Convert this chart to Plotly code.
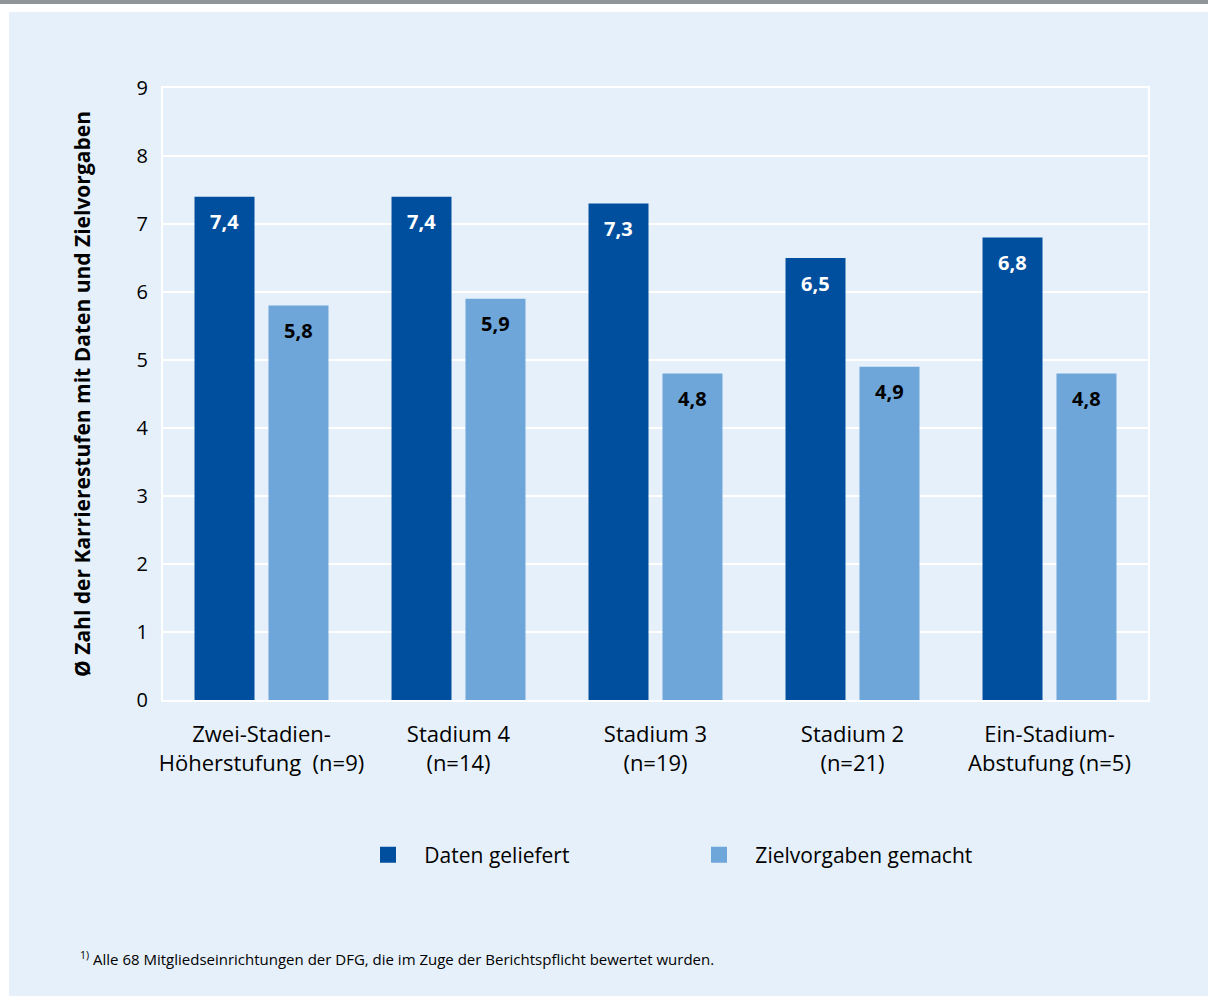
import plotly.graph_objects as go

categories = ["Zwei-Stadien-<br>Höherstufung\u00a0\u00a0(n=9)", "Stadium 4<br>(n=14)", "Stadium 3<br>(n=19)",
              "Stadium 2<br>(n=21)", "Ein-Stadium-<br>Abstufung (n=5)"]
daten = [7.4, 7.4, 7.3, 6.5, 6.8]
ziel = [5.8, 5.9, 4.8, 4.9, 4.8]
series_names = ["Daten geliefert", "Zielvorgaben gemacht"]
yticks = [0, 1, 2, 3, 4, 5, 6, 7, 8, 9]

DARK = "#004f9f"
LIGHT = "#6fa6d9"
BG = "#e6f0fa"
FONT = "Open Sans"

W, H = 1208, 996
L, R, T, B = 163, 60, 88, 296
PW, PH = W - L - R, H - T - B


def px(x):
    return (x - L) / PW


def py(y):
    return (H - B - y) / PH


def fmt(v):
    return f"{v:.1f}".replace(".", ",")


fig = go.Figure()
fig.add_trace(go.Bar(x=categories, y=daten, name=series_names[0], marker=dict(color=DARK, line=dict(width=0)),
                     showlegend=False))
fig.add_trace(go.Bar(x=categories, y=ziel, name=series_names[1], marker=dict(color=LIGHT, line=dict(width=0)),
                     showlegend=False))
# legend proxies
for nm, col in zip(series_names, [DARK, LIGHT]):
    fig.add_trace(go.Scatter(x=[None], y=[None], mode="markers", name="\u00a0\u00a0\u00a0" + nm,
                             marker=dict(symbol="square", size=20, color=col)))

annotations = []
for c, v in zip(categories, daten):
    annotations.append(dict(x=c, y=v, xref="x", yref="y", text=f"<b>{fmt(v)}</b>", showarrow=False,
                            xshift=-37, yshift=-25, font=dict(family=FONT, size=20, color="white")))
for c, v in zip(categories, ziel):
    annotations.append(dict(x=c, y=v, xref="x", yref="y", text=f"<b>{fmt(v)}</b>", showarrow=False,
                            xshift=37, yshift=-25, font=dict(family=FONT, size=20, color="black")))
annotations.append(dict(x=px(78), y=py(958), xref="paper", yref="paper", xanchor="left", yanchor="middle",
                        text="<sup>1)</sup> Alle 68 Mitgliedseinrichtungen der DFG, die im Zuge der Berichtspflicht bewertet wurden.",
                        showarrow=False, font=dict(family=FONT, size=15, color="black")))

shapes = [
    dict(type="rect", xref="paper", yref="paper", x0=px(9), x1=px(W + 5), y0=py(H + 5), y1=py(12),
         fillcolor=BG, line=dict(width=0), layer="below"),
    dict(type="rect", xref="paper", yref="paper", x0=px(-5), x1=px(W + 5), y0=py(4), y1=py(-5),
         fillcolor="#8f9598", line=dict(width=0), layer="below"),
]

fig.update_layout(
    width=W, height=H,
    margin=dict(l=L, r=R, t=T, b=B, autoexpand=False),
    paper_bgcolor="white", plot_bgcolor=BG,
    barmode="group", bargap=0.249, bargroupgap=0.189,
    font=dict(family=FONT, size=20, color="black"),
    shapes=shapes, annotations=annotations,
    showlegend=True,
    legend=dict(orientation="h", x=px(368), y=py(855), xanchor="left", yanchor="middle",
                bgcolor="rgba(0,0,0,0)", font=dict(family=FONT, size=21, color="black"),
                entrywidth=286, entrywidthmode="pixels", itemsizing="trace"),
)
fig.update_xaxes(showgrid=False, showline=True, linecolor="white", linewidth=2, mirror=True,
                 ticks="", ticklabelstandoff=14, tickfont=dict(family=FONT, size=22), fixedrange=True)
fig.update_yaxes(range=[0, 9], tickvals=yticks, showgrid=True, gridcolor="white", gridwidth=1.5,
                 showline=True, linecolor="white", linewidth=2, mirror=True, zeroline=False,
                 ticks="", ticklabelstandoff=9, tickfont=dict(family=FONT, size=20),
                 title=dict(text="<b>Ø Zahl der Karrierestufen mit Daten und Zielvorgaben</b>",
                            font=dict(family=FONT, size=21), standoff=40), fixedrange=True)

fig.write_html("out.html", config={"displayModeBar": False},
               post_script="document.body.style.margin='0px';document.body.style.overflow='hidden';")
